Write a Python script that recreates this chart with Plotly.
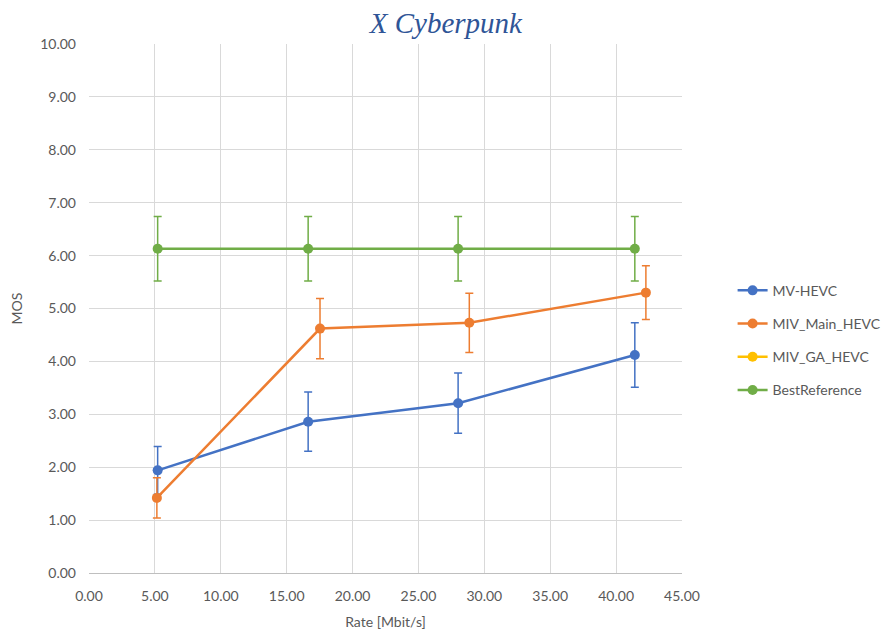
import plotly.graph_objects as go

series_names = ["MV-HEVC", "MIV_Main_HEVC", "MIV_GA_HEVC", "BestReference"]
colors = ["#4472C4", "#ED7D31", "#FFC000", "#70AD47"]

mv_x = [5.21, 16.63, 28.01, 41.42]
mv_y = [1.94, 2.86, 3.21, 4.12]
mv_err = [0.45, 0.56, 0.57, 0.61]

main_x = [5.15, 17.53, 28.86, 42.26]
main_y = [1.42, 4.62, 4.73, 5.30]
main_err = [0.38, 0.57, 0.56, 0.51]

ga_x = []
ga_y = []
ga_err = []

best_x = [5.21, 16.63, 28.01, 41.42]
best_y = [6.13, 6.13, 6.13, 6.13]
best_err = [0.61, 0.61, 0.61, 0.61]

data = [(mv_x, mv_y, mv_err), (main_x, main_y, main_err), (ga_x, ga_y, ga_err), (best_x, best_y, best_err)]

fig = go.Figure()
for i, (name, (xs, ys, es)) in enumerate(zip(series_names, data)):
    if not xs:
        xs, ys, es = [None], [None], [None]
    fig.add_trace(go.Scatter(
        x=xs, y=ys, name=name, mode="lines+markers",
        line=dict(color=colors[i], width=2.5),
        marker=dict(color=colors[i], size=10),
        error_y=dict(type="data", array=es, visible=True, color=colors[i], thickness=1.5, width=4),
        legendgroup=name,
    ))

axis_font = dict(family="Lato, 'Open Sans', sans-serif", size=14, color="#595959")
fig.update_layout(
    width=890, height=637,
    margin=dict(l=81, r=215, t=36, b=72),
    paper_bgcolor="white", plot_bgcolor="white",
    title=dict(text="<i>X Cyberpunk</i>", x=0.492, xanchor="center", y=0.977, yanchor="middle",
               font=dict(family="'Liberation Serif', serif", size=29, color="#2F5597")),
    xaxis=dict(range=[0, 45], dtick=5, tickformat=".2f", showgrid=True, gridcolor="#D9D9D9",
               showline=True, linecolor="#BFBFBF", zeroline=False, ticks="", tickfont=axis_font,
               ticklabelstandoff=10, automargin=False,
               title=dict(text="Rate [Mbit/s]", font=axis_font, standoff=14)),
    yaxis=dict(range=[0, 10], dtick=1, tickformat=".2f", showgrid=True, gridcolor="#D9D9D9",
               showline=False, zeroline=False, ticks="", tickfont=axis_font,
               ticklabelstandoff=12, automargin=False,
               title=dict(text="MOS", font=axis_font, standoff=14)),
    legend=dict(x=1.0835, xanchor="left", y=0.44, yanchor="middle", font=axis_font,
                tracegroupgap=12, itemwidth=30, bgcolor="rgba(0,0,0,0)"),
    showlegend=True,
)
fig.write_html("out.html")
